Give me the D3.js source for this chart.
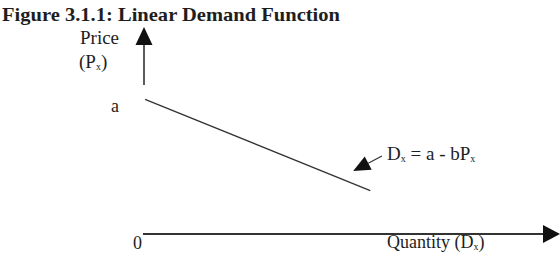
<!DOCTYPE html>
<html>
<head>
<meta charset="utf-8">
<script src="https://cdn.jsdelivr.net/npm/d3@7"></script>
<style>
  body { margin: 0; background: #fff; }
  text { font-family: "Liberation Serif", "Times New Roman", serif; fill: #1e1e1e; }
</style>
</head>
<body>
<div id="chart-area"></div>
<script>
var width = 560;
var height = 256;

// axis extents (arbitrary units)
var qDomain = [0, 10];
var pDomain = [0, 10];

// demand line end points
var demandQ = [0.05, 5.45];
var demandP = [6.5, 2.1];

// pointer arrow from label to line
var pointerQ = [5.73, 5.04];
var pointerP = [3.77, 3.04];

var interceptLabel = "a";
var originLabel = "0";

var svg = d3.select("#chart-area").append("svg")
	.attr("width", width)
	.attr("height", height);

var x = d3.scaleLinear()
	.domain(qDomain)
	.range([143, 560]);

var y = d3.scaleLinear()
	.domain(pDomain)
	.range([234, 27]);

var axisColor = "#333";

// title
svg.append("text")
	.attr("x", 2)
	.attr("y", 21)
	.attr("font-size", "19px")
	.attr("font-weight", "bold")
	.attr("textLength", 338)
	.attr("lengthAdjust", "spacingAndGlyphs")
	.text("Figure 3.1.1: Linear Demand Function");

// y axis with arrow
svg.append("line")
	.attr("x1", x(0) + 1).attr("x2", x(0) + 1)
	.attr("y1", y(0) - 149).attr("y2", y(pDomain[1]) + 16)
	.attr("stroke", axisColor)
	.attr("stroke-width", 1.6);
svg.append("path")
	.attr("d", "M" + (x(0) + 1) + "," + y(pDomain[1]) +
		"L" + (x(0) + 9.5) + "," + (y(pDomain[1]) + 18) +
		"L" + (x(0) - 7.5) + "," + (y(pDomain[1]) + 18) + "Z")
	.attr("fill", "#111");

// x axis with arrow
svg.append("line")
	.attr("x1", x(0)).attr("x2", x(qDomain[1]) - 16)
	.attr("y1", y(0)).attr("y2", y(0))
	.attr("stroke", axisColor)
	.attr("stroke-width", 1.8);
svg.append("path")
	.attr("d", "M" + x(qDomain[1]) + "," + y(0) +
		"L" + (x(qDomain[1]) - 17) + "," + (y(0) - 9) +
		"L" + (x(qDomain[1]) - 17) + "," + (y(0) + 9) + "Z")
	.attr("fill", "#111");

// demand line
var line = d3.line()
	.x((d) => {return x(d[0]);})
	.y((d) => {return y(d[1]);});

svg.append("path")
	.datum(demandQ.map((d, i) => {return [d, demandP[i]];}))
	.attr("d", line)
	.attr("fill", "none")
	.attr("stroke", "#333")
	.attr("stroke-width", 1.3);

// pointer arrow
var tail = [x(pointerQ[0]), y(pointerP[0])];
var tip = [x(pointerQ[1]), y(pointerP[1])];
var ang = Math.atan2(tip[1] - tail[1], tip[0] - tail[0]);
var headLen = 17, headW = 7.5;
var base = [tip[0] - headLen * Math.cos(ang), tip[1] - headLen * Math.sin(ang)];
svg.append("line")
	.attr("x1", tail[0]).attr("y1", tail[1])
	.attr("x2", base[0]).attr("y2", base[1])
	.attr("stroke", "#333")
	.attr("stroke-width", 1.2);
svg.append("path")
	.attr("d", "M" + tip[0] + "," + tip[1] +
		"L" + (base[0] - headW * Math.sin(ang)) + "," + (base[1] + headW * Math.cos(ang)) +
		"L" + (base[0] + headW * Math.sin(ang)) + "," + (base[1] - headW * Math.cos(ang)) + "Z")
	.attr("fill", "#111");

// labels
svg.append("text")
	.attr("x", 80)
	.attr("y", 44)
	.attr("font-size", "19px")
	.text("Price");

var px = svg.append("text")
	.attr("x", 79)
	.attr("y", 68)
	.attr("font-size", "19px");
px.append("tspan").text("(P");
px.append("tspan").attr("font-size", "10px").attr("dy", 2).text("x");
px.append("tspan").attr("dy", -2).text(")");

svg.append("text")
	.attr("x", 119)
	.attr("y", y(demandP[0]) + 13)
	.attr("text-anchor", "end")
	.attr("font-size", "18px")
	.text(interceptLabel);

svg.append("text")
	.attr("x", x(0) - 1)
	.attr("y", y(0) + 15)
	.attr("text-anchor", "end")
	.attr("font-size", "18px")
	.text(originLabel);

var eq = svg.append("text")
	.attr("x", 387)
	.attr("y", 160)
	.attr("font-size", "19px");
eq.append("tspan").text("D");
eq.append("tspan").attr("font-size", "10px").attr("dy", 2).text("x");
eq.append("tspan").attr("dy", -2).text(" = a - bP");
eq.append("tspan").attr("font-size", "10px").attr("dy", 2).text("x");

var ql = svg.append("text")
	.attr("x", 387)
	.attr("y", 248)
	.attr("font-size", "18px");
ql.append("tspan").text("Quantity (D");
ql.append("tspan").attr("font-size", "10px").attr("dy", 2).text("x");
ql.append("tspan").attr("dy", -2).text(")");
</script>
</body>
</html>
